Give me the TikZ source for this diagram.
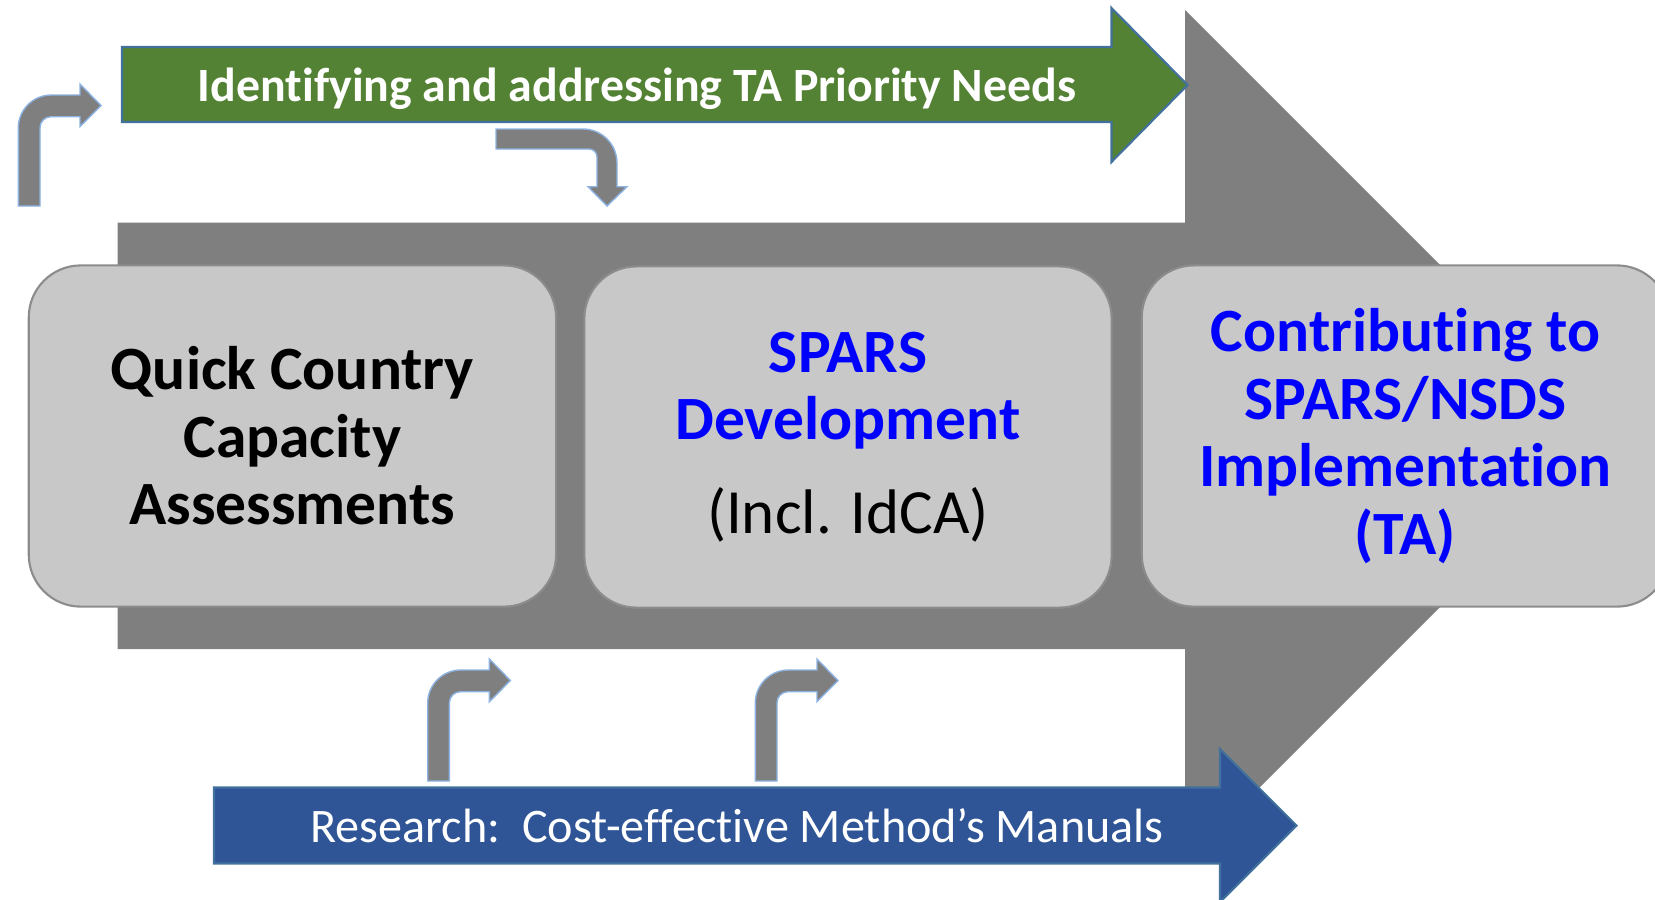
\documentclass[tikz,border=0pt]{standalone}
\usepackage{fontspec}
\setmainfont{Carlito}[Ligatures=NoCommon]
\usepackage{tikz}
\usetikzlibrary{calc}
\definecolor{needsgreen}{HTML}{548235}
\definecolor{researchblue}{HTML}{2F5597}
\definecolor{edgeblue}{HTML}{41719C}
\definecolor{arrowgray}{HTML}{7F7F7F}
\definecolor{boxfill}{HTML}{C8C8C8}
\definecolor{boxline}{HTML}{8C8C8C}
\definecolor{bendline}{HTML}{8DB3E2}
\definecolor{stageblue}{HTML}{0000FF}
\def\bentarrow[#1](#2){\draw[#1,shift={(#2)}] (0,0) -- (0,-78) arc (180:270:33) -- (61.7,-111) -- (61.7,-122) -- (82.7,-100.5) -- (61.7,-79.3) -- (61.7,-89.3) -- (32.7,-89.3) arc (270:180:11) -- (21.7,0) -- cycle;}
\tikzset{
	stagebox/.style={draw=boxline, fill=boxfill, line width=0.6pt, rounded corners=0.52cm,
		minimum width=5.27cm, minimum height=3.41cm, align=center,
		font=\fontsize{17.5}{19.2}\selectfont\bfseries},
	bendshape/.style={fill=arrowgray, draw=bendline, line width=0.4pt}
}
\begin{document}
\begin{tikzpicture}[x=0.01cm,y=-0.01cm]
		%%%%% START %%%%%
		\useasboundingbox (0,0) rectangle (1655,899);
		\clip (0,0) rectangle (1655,899);
		
		% big process arrow
		\fill[arrowgray] (117.6,222.7) -- (1185,222.7) -- (1185,10) -- (1611,436) -- (1185,862) -- (1185,649) -- (117.6,649) -- cycle;
		
		% top and bottom band arrows
		\draw[fill=needsgreen, draw=edgeblue, line width=0.6pt] (122,47) -- (1111.5,47) -- (1111.5,8) -- (1187.5,85) -- (1111.5,162) -- (1111.5,122) -- (122,122) -- cycle;
		\draw[fill=researchblue, draw=edgeblue, line width=0.6pt] (214,787.5) -- (1220,787.5) -- (1220,749) -- (1296.5,825.5) -- (1220,902) -- (1220,863.5) -- (214,863.5) -- cycle;
		
		\node[anchor=base, text=white, font=\fontsize{13.6}{16}\selectfont\bfseries] (needs) at (637,101) {Identifying and addressing TA Priority Needs};
		\node[anchor=base, text=white, font=\fontsize{13.7}{16}\selectfont] (research) at (737,842.7) {Research:\ \ Cost-effective Method’s Manuals};
		
		% bent arrows
		\bentarrow[bendshape](18.3,206);
		\bentarrow[bendshape](427.7,781);
		\bentarrow[bendshape](755.3,781);
		\draw[bendshape] (496,129) -- (583,129) arc (270:360:34) -- (617,186.7) -- (627,186.7) -- (607,206) -- (588,186.7) -- (597,186.7) -- (597,157) arc (0:-90:8) -- (496,149) -- cycle;
		
		% stages
		\node[stagebox] (qcca) at (292.4,436) {Quick Country\\Capacity\\Assessments};
		\node[stagebox] (spars) at (848,437) {\textcolor{stageblue}{SPARS}\\\textcolor{stageblue}{Development}\\[7.3pt]{\mdseries\fontsize{17.9}{19.2}\selectfont (Incl. IdCA)}};
		\node[stagebox, text=stageblue] (implem) at (1405.4,436) {Contributing to\\SPARS/NSDS\\Implementation\\(TA)};
		
		%%%%% END %%%%%
	\end{tikzpicture}
\end{document}
